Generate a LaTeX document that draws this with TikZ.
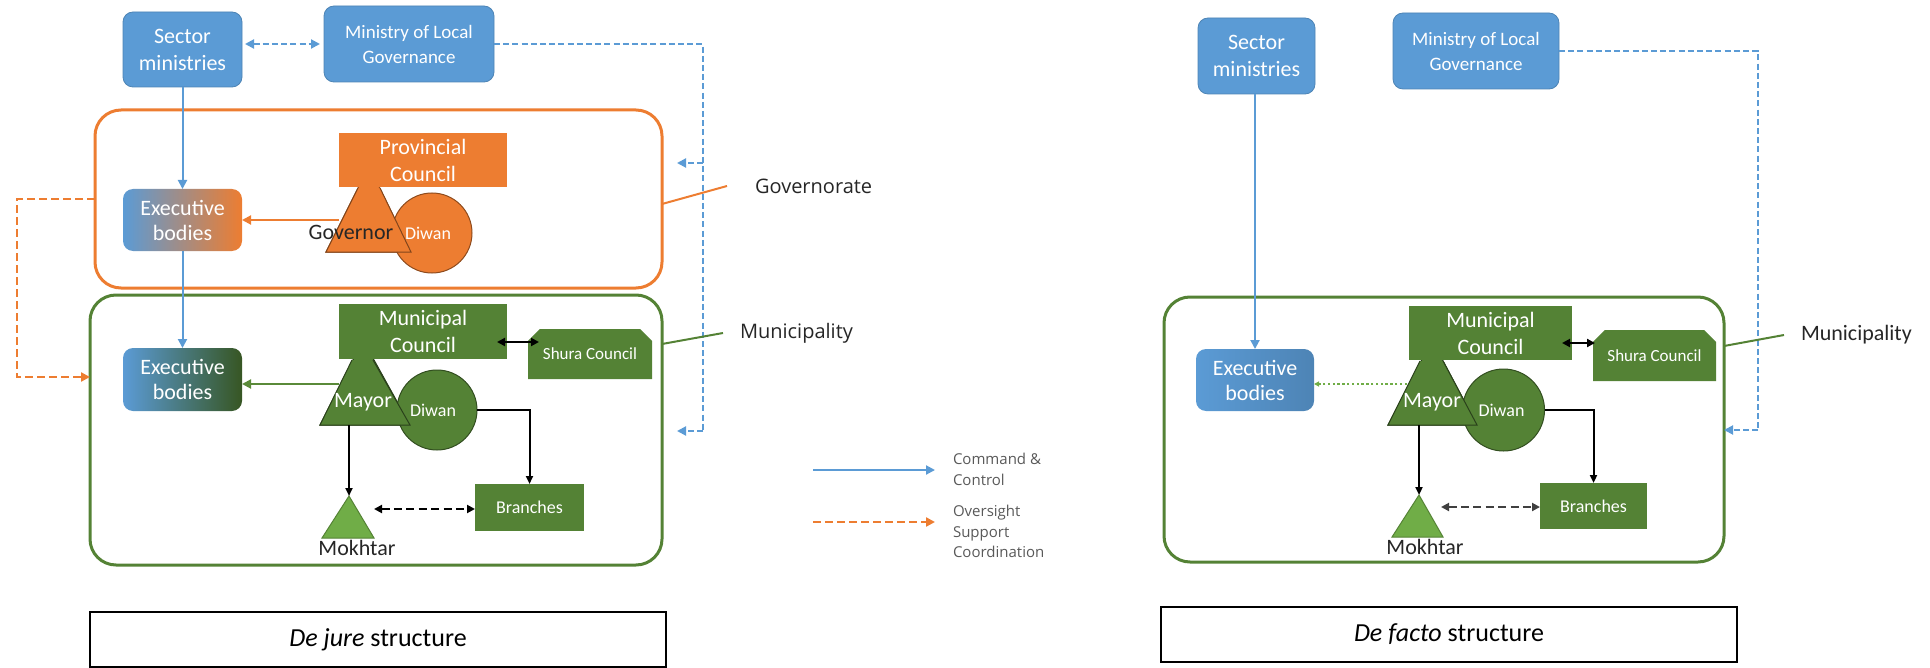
\documentclass[tikz,border=0pt]{standalone}
\usepackage{fontspec}
\setmainfont{Carlito}
\newfontfamily\labelfont{Open Sans}
\usetikzlibrary{arrows.meta,calc,shapes.misc}
\definecolor{cblue}{HTML}{5B9BD5}
\definecolor{corange}{HTML}{ED7D31}
\definecolor{cgreen}{HTML}{548235}
\definecolor{clgreen}{HTML}{70AD47}
\definecolor{cdgreen}{HTML}{375623}
\definecolor{cgray}{HTML}{595959}
\definecolor{cdark}{HTML}{262626}
\begin{document}
\begin{tikzpicture}[x=0.5pt,y=-0.5pt,
  every node/.style={inner sep=0pt,outer sep=0pt},
  tA/.style={font=\fontsize{11}{13.5}\selectfont},
  tB/.style={font=\fontsize{9.5}{12.5}\selectfont},
  tC/.style={font=\fontsize{9}{11}\selectfont},
  tD/.style={font=\fontsize{8.5}{10}\selectfont},
  bluebox/.style={fill=cblue,draw=cblue!85!black,line width=0.4pt,rounded corners=5pt,text=white,align=center},
  orangebox/.style={fill=corange,text=white,align=center},
  greenbox/.style={fill=cgreen,text=white,align=center},
  shurabox/.style={greenbox,chamfered rectangle,chamfered rectangle corners={north east,north west},
    chamfered rectangle xsep=3pt,chamfered rectangle ysep=3pt},
  region/.style={draw,rounded corners=13pt,line width=1.5pt},
  disc/.style={circle,line width=0.5pt,text=white},
  tri/.style={line width=0.5pt},
  tipA/.style={-{Triangle[length=4.5pt,width=4.5pt]}},
  cmd/.style={draw=cblue,line width=1pt,tipA},
  mlgdash/.style={draw=cblue,line width=1pt,dash pattern=on 3pt off 1.6pt},
  ovsdash/.style={draw=corange,line width=1.2pt,dash pattern=on 4pt off 2pt},
  blk/.style={draw=black,line width=1pt,-{Triangle[length=4pt,width=3.5pt]}},
  blkdbl/.style={draw=black,line width=1.2pt,{Triangle[length=4pt,width=4pt]}-{Triangle[length=4pt,width=4pt]}},
  blkdash/.style={draw=black,line width=1.2pt,dash pattern=on 4pt off 2.2pt,{Triangle[length=4pt,width=4pt]}-{Triangle[length=4pt,width=4pt]}},
  outlabel/.style={font=\labelfont\fontsize{10}{12}\selectfont,text=cdark,anchor=west},
  legend/.style={font=\labelfont\fontsize{7.5}{10.5}\selectfont,text=cgray,anchor=west,align=left},
  caption/.style={draw=black,line width=1pt,minimum width=288pt,minimum height=27.5pt,font=\fontsize{13}{15}\selectfont}
]
\useasboundingbox (0,0) rectangle (1930,668);

% =================== De jure structure ===================
% tier frames
\node[region,draw=corange,minimum width=283.5pt,minimum height=89pt] (govL) at (378.5,199) {};
\node[region,draw=cgreen,minimum width=286pt,minimum height=135pt] (munL) at (376,430) {};

% national level
\node[bluebox,tA,minimum width=59.5pt,minimum height=37.5pt] (smL) at (182.5,49.5) {Sector\\ministries};
\node[bluebox,tB,minimum width=85pt,minimum height=38pt] (mlgL) at (409,44) {Ministry of Local\\Governance};

% governorate: governor triangle sits under the council
\draw[tri,fill=corange,draw=corange!55!black] (369,166) -- (411,252) -- (326,252) -- cycle;
\node[orangebox,tA,minimum width=84pt,minimum height=27pt] (pcL) at (423,160) {Provincial\\Council};
\node[disc,tC,fill=corange,draw=corange!60!black,minimum size=40pt] (gdiwL) at (432,233) {\hspace{-4pt}Diwan};
\draw[tri,fill=corange,draw=corange!55!black] (380,188) -- (411,252) -- (326,252) -- (358,188);
\node[tA,text=cdark] (govnr) at (351,232) {Governor};
\node[tA,text=white,align=center,minimum width=59.5pt,minimum height=31pt,rounded corners=5pt,
      left color=cblue,middle color=corange!60!cblue,right color=corange] (exgL) at (182.5,220) {Executive\\[-1pt]bodies};

% municipality
\draw[tri,fill=cgreen,draw=cgreen!50!black] (363,340) -- (410,425) -- (320,425) -- cycle;
\node[greenbox,tA,minimum width=84pt,minimum height=27.5pt] (mcL) at (423,331.5) {Municipal\\Council};
\node[disc,tC,fill=cgreen,draw=cgreen!60!black,minimum size=40pt] (mdiwL) at (437,410) {\hspace{-4pt}Diwan};
\draw[tri,fill=cgreen,draw=cgreen!50!black] (373,360) -- (410,425) -- (320,425) -- (352,360);
\node[tA,text=white] (mayorL) at (363,402) {Mayor};
\node[shurabox,tD,minimum width=62pt,minimum height=25pt] (shuraL) at (590,354) {Shura Council};
\node[tA,text=white,align=center,minimum width=59.5pt,minimum height=31.5pt,rounded corners=5pt,
      left color=cblue,right color=cdgreen] (exmL) at (182.5,379.5) {Executive\\[-1pt]bodies};
\node[greenbox,tC,minimum width=54.5pt,minimum height=23.5pt] (brL) at (529.5,507.5) {Branches};
\draw[tri,fill=clgreen,draw=cgreen] (349,496) -- (374,538) -- (322,538) -- cycle;
\node[tA,text=cdark] (mokL) at (357,548) {Mokhtar};

% connectors
\draw[mlgdash,{Triangle[length=4.5pt,width=4.5pt]}-{Triangle[length=4.5pt,width=4.5pt]},shorten <=1.5pt,shorten >=2pt]
  (smL.east |- mlgL.west) -- (mlgL.west);
\coordinate (mlgTurnL) at (703,44);
\coordinate (govTipL) at (677,163);
\coordinate (munTipL) at (677,431);
\draw[mlgdash] (mlgL.east |- mlgTurnL) -- (mlgTurnL) -- (mlgTurnL |- munTipL);
\draw[mlgdash,tipA] (mlgTurnL |- govTipL) -- (govTipL);
\draw[mlgdash,tipA] (mlgTurnL |- munTipL) -- (munTipL);

\draw[cmd] (smL.south) -- (exgL.north);
\draw[cmd] (exgL.south) -- (exmL.north);

\coordinate (govEdgeL) at (339,220);
\draw[draw=corange,line width=1pt,tipA] (govEdgeL) -- (exgL.east |- govEdgeL);
\coordinate (mayEdgeL) at (339,384);
\draw[draw=clgreen!80!black,line width=1pt,tipA] (mayEdgeL) -- (exmL.east |- mayEdgeL);

\coordinate (ovsTop) at (17,199);
\coordinate (ovsTip) at (90,377);
\draw[ovsdash,tipA] (govL.west) -- (ovsTop) |- (ovsTip);

\draw[blkdbl,shorten <=-5pt,shorten >=-5.5pt] (mcL.east |- 0,342) -- (shuraL.west |- 0,342);
\coordinate (mayBaseL) at (349,425);
\draw[blk] (mayBaseL) -- (349,496);
\draw[blk] (mdiwL.east) -| (brL.north);
\draw[blkdash] (374,509) -- (brL.west |- 0,509);

% tier labels
\node[outlabel] (govLab) at (755,186) {Governorate};
\draw[corange,line width=1pt] (govL.east |- 0,204) -- ([xshift=-14pt]govLab.west);
\node[outlabel] (munLab) at (740,333) {Municipality};
\draw[cgreen,line width=1pt] (munL.east |- 0,344) -- ([xshift=-8.5pt]munLab.west);

% legend
\coordinate (lgA) at (813,470);
\coordinate (lgB) at (935,470);
\draw[cmd] (lgA) -- (lgB);
\node[legend] (lgCmd) at (953,469) {Command \&\\Control};
\coordinate (lgC) at (813,522);
\coordinate (lgD) at (935,522);
\draw[ovsdash,tipA] (lgC) -- (lgD);
\node[legend,font=\labelfont\fontsize{7.5}{10.3}\selectfont] (lgOvs) at (953,531.5) {Oversight\\Support\\Coordination};

\node[caption] (capL) at (378,639.5) {\textit{De jure} structure};

% =================== De facto structure ===================
\node[region,draw=cgreen,minimum width=280pt,minimum height=132.5pt] (munR) at (1444,429.5) {};
\node[bluebox,tA,minimum width=58.5pt,minimum height=38pt] (smR) at (1256.5,56) {Sector\\ministries};
\node[bluebox,tB,minimum width=83pt,minimum height=38pt] (mlgR) at (1476,51) {Ministry of Local\\Governance};

\draw[tri,fill=cgreen,draw=cgreen!50!black] (1432,340) -- (1477,425) -- (1388,425) -- cycle;
\node[greenbox,tA,minimum width=81.5pt,minimum height=27pt] (mcR) at (1490.5,333) {Municipal\\Council};
\node[disc,tC,fill=cgreen,draw=cgreen!60!black,minimum size=41pt] (mdiwR) at (1503.5,410) {\hspace{-2pt}Diwan};
\draw[tri,fill=cgreen,draw=cgreen!50!black] (1443,361) -- (1477,425) -- (1388,425) -- (1420,361);
\node[tA,text=white] (mayorR) at (1432,402) {Mayor};
\node[shurabox,tD,minimum width=61.5pt,minimum height=25.5pt] (shuraR) at (1654.5,355.5) {Shura Council};
\node[tA,text=white,align=center,minimum width=59pt,minimum height=31pt,rounded corners=5pt,
      left color=cblue,right color=cblue!85!black] (exR) at (1255,380) {Executive\\[-1pt]bodies};
\node[greenbox,tC,minimum width=53.5pt,minimum height=23pt] (brR) at (1593.5,506) {Branches};
\draw[tri,fill=clgreen,draw=cgreen] (1419,495) -- (1443,537) -- (1392,537) -- cycle;
\node[tA,text=cdark] (mokR) at (1425,547) {Mokhtar};

\draw[cmd] (smR.south -| exR.north) -- (exR.north);
\coordinate (mlgTurnR) at (1758,51);
\coordinate (munTipR) at (1758,430);
\draw[mlgdash] (mlgR.east) -- (mlgTurnR) -- (munTipR);
\draw[mlgdash,tipA] (munTipR) -- (munR.east |- munTipR);

\coordinate (mayEdgeR) at (1407,384);
\draw[draw=clgreen,line width=0.8pt,dash pattern=on 1.2pt off 1.2pt,-{Triangle[length=2.5pt,width=2.5pt]}]
  (mayEdgeR) -- (exR.east |- mayEdgeR);
\draw[blkdbl,shorten <=-5pt,shorten >=-1pt] (mcR.east |- 0,343) -- (shuraR.west |- 0,343);
\coordinate (mayBaseR) at (1419,425);
\draw[blk] (mayBaseR) -- (1419,495);
\draw[blk] (mdiwR.east) -| (brR.north);
\draw[blkdash,draw=black!75] (1441,507) -- (brR.west |- 0,507);

\node[anchor=west,font=\fontsize{11}{13}\selectfont,text=cdark] (munLabR) at (1801,335) {Municipality};
\draw[cgreen,line width=1pt] (munR.east |- 0,346) -- ([xshift=-8.5pt]munLabR.west);

\node[caption] (capR) at (1449,634.5) {\textit{De facto} structure};
\end{tikzpicture}
\end{document}
